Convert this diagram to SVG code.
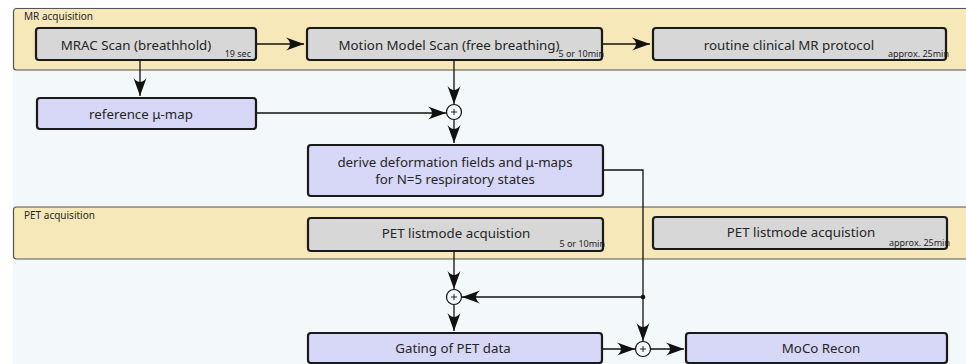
<svg xmlns="http://www.w3.org/2000/svg" width="966" height="364" viewBox="0 0 966 364">
  <style>
    text { font-family: "Noto Sans", "Open Sans", "DejaVu Sans", sans-serif; fill: #262626; }
    .panel { fill: #f6e8b9; stroke: #555; stroke-width: 1.2; }
    .gray { fill: #d7d7d7; }
    .lav { fill: #d7d7f7; }
    .edge { fill: none; stroke: #1a1a1a; stroke-width: 2.2; }
    .lbl { font-size: 13.3px; text-anchor: middle; }
    .note { font-size: 9px; text-anchor: end; }
    .plbl { font-size: 10px; }
    .wire { fill: none; stroke: #111; stroke-width: 1.3; }
    .sum { fill: #f3f9fa; stroke: #111; stroke-width: 1.2; }
    .plus { stroke: #111; stroke-width: 0.9; }
  </style>
  <defs>
    <marker id="dart" markerUnits="userSpaceOnUse" markerWidth="20" markerHeight="16" viewBox="-19 -8 20 16" refX="0" refY="0" orient="auto">
      <path d="M0,0 L-18,-6.5 Q-10,0 -18,6.5 Z" fill="#111"/>
    </marker>
  </defs>

  <!-- canvas -->
  <rect x="0" y="0" width="966" height="364" fill="#ffffff"/>
  <rect x="13" y="7" width="953" height="357" fill="#f3f9fa"/>

  <!-- swimlanes -->
  <g id="mr-acquisition">
    <rect class="panel" x="13.5" y="8.5" width="960" height="61.5" rx="3"/>
    <text class="plbl" x="24" y="20">MR acquisition</text>
  </g>
  <g id="pet-acquisition">
    <rect class="panel" x="13.5" y="207" width="960" height="52" rx="3"/>
    <text class="plbl" x="24" y="219">PET acquisition</text>
  </g>

  <!-- connectors -->
  <g id="connectors">
    <path class="wire" d="M256,44 H304" marker-end="url(#dart)"/>
    <path class="wire" d="M602,44 H650" marker-end="url(#dart)"/>
    <path class="wire" d="M140,60 V96" marker-end="url(#dart)"/>
    <path class="wire" d="M256,113 H446" marker-end="url(#dart)"/>
    <path class="wire" d="M454,60 V104" marker-end="url(#dart)"/>
    <path class="wire" d="M454,120 V143" marker-end="url(#dart)"/>
    <path class="wire" d="M603,170 H643 V341" marker-end="url(#dart)"/>
    <path class="wire" d="M454,251 V289" marker-end="url(#dart)"/>
    <path class="wire" d="M643,297 H462" marker-end="url(#dart)"/>
    <circle cx="643" cy="297" r="2.3" fill="#111"/>
    <path class="wire" d="M454,305 V331" marker-end="url(#dart)"/>
    <path class="wire" d="M602,349 H635" marker-end="url(#dart)"/>
    <path class="wire" d="M651,349 H684" marker-end="url(#dart)"/>
  </g>

  <!-- summing junctions -->
  <g id="sum-mu">
    <circle class="sum" cx="454" cy="112" r="7.5"/>
    <path class="plus" d="M451,112 H457 M454,109 V115"/>
  </g>
  <g id="sum-gate">
    <circle class="sum" cx="454" cy="297" r="7.5"/>
    <path class="plus" d="M451,297 H457 M454,294 V300"/>
  </g>
  <g id="sum-moco">
    <circle class="sum" cx="643" cy="349" r="7.5"/>
    <path class="plus" d="M640,349 H646 M643,346 V352"/>
  </g>

  <!-- process nodes -->
  <g id="mrac-scan">
    <rect class="gray" x="36" y="28" width="220" height="32" rx="3"/>
    <text class="lbl" x="136" y="50">MRAC Scan (breathhold)</text>
    <text class="note" x="251" y="57">19 sec</text>
    <rect class="edge" x="36" y="28" width="220" height="32" rx="3"/>
  </g>
  <g id="motion-model-scan">
    <rect class="gray" x="307" y="28" width="295" height="32" rx="3"/>
    <text class="lbl" x="449" y="50">Motion Model Scan (free breathing)</text>
    <text class="note" x="604" y="57">5 or 10min</text>
    <rect class="edge" x="307" y="28" width="295" height="32" rx="3"/>
  </g>
  <g id="routine-mr">
    <rect class="gray" x="653" y="28" width="293" height="32" rx="3"/>
    <text class="lbl" x="789" y="50">routine clinical MR protocol</text>
    <text class="note" x="949" y="57">approx. 25min</text>
    <rect class="edge" x="653" y="28" width="293" height="32" rx="3"/>
  </g>
  <g id="reference-mu-map">
    <rect class="lav" x="37" y="98" width="219" height="31" rx="3"/>
    <text class="lbl" x="141" y="119">reference μ-map</text>
    <rect class="edge" x="37" y="98" width="219" height="31" rx="3"/>
  </g>
  <g id="derive-fields">
    <rect class="lav" x="308" y="145" width="295" height="51" rx="3"/>
    <text class="lbl" x="455" y="167">derive deformation fields and μ-maps</text>
    <text class="lbl" x="455" y="184">for N=5 respiratory states</text>
    <rect class="edge" x="308" y="145" width="295" height="51" rx="3"/>
  </g>
  <g id="pet-listmode-short">
    <rect class="gray" x="308" y="218" width="295" height="33" rx="3"/>
    <text class="lbl" x="456" y="238">PET listmode acquistion</text>
    <text class="note" x="605" y="247">5 or 10min</text>
    <rect class="edge" x="308" y="218" width="295" height="33" rx="3"/>
  </g>
  <g id="pet-listmode-long">
    <rect class="gray" x="653" y="217" width="294" height="32" rx="3"/>
    <text class="lbl" x="801" y="237">PET listmode acquistion</text>
    <text class="note" x="950" y="246">approx. 25min</text>
    <rect class="edge" x="653" y="217" width="294" height="32" rx="3"/>
  </g>
  <g id="gating">
    <rect class="lav" x="308" y="333" width="294" height="30" rx="3"/>
    <text class="lbl" x="453" y="353">Gating of PET data</text>
    <rect class="edge" x="308" y="333" width="294" height="30" rx="3"/>
  </g>
  <g id="moco-recon">
    <rect class="lav" x="686" y="333" width="261" height="30" rx="3"/>
    <text class="lbl" x="821" y="353">MoCo Recon</text>
    <rect class="edge" x="686" y="333" width="261" height="30" rx="3"/>
  </g>
</svg>
